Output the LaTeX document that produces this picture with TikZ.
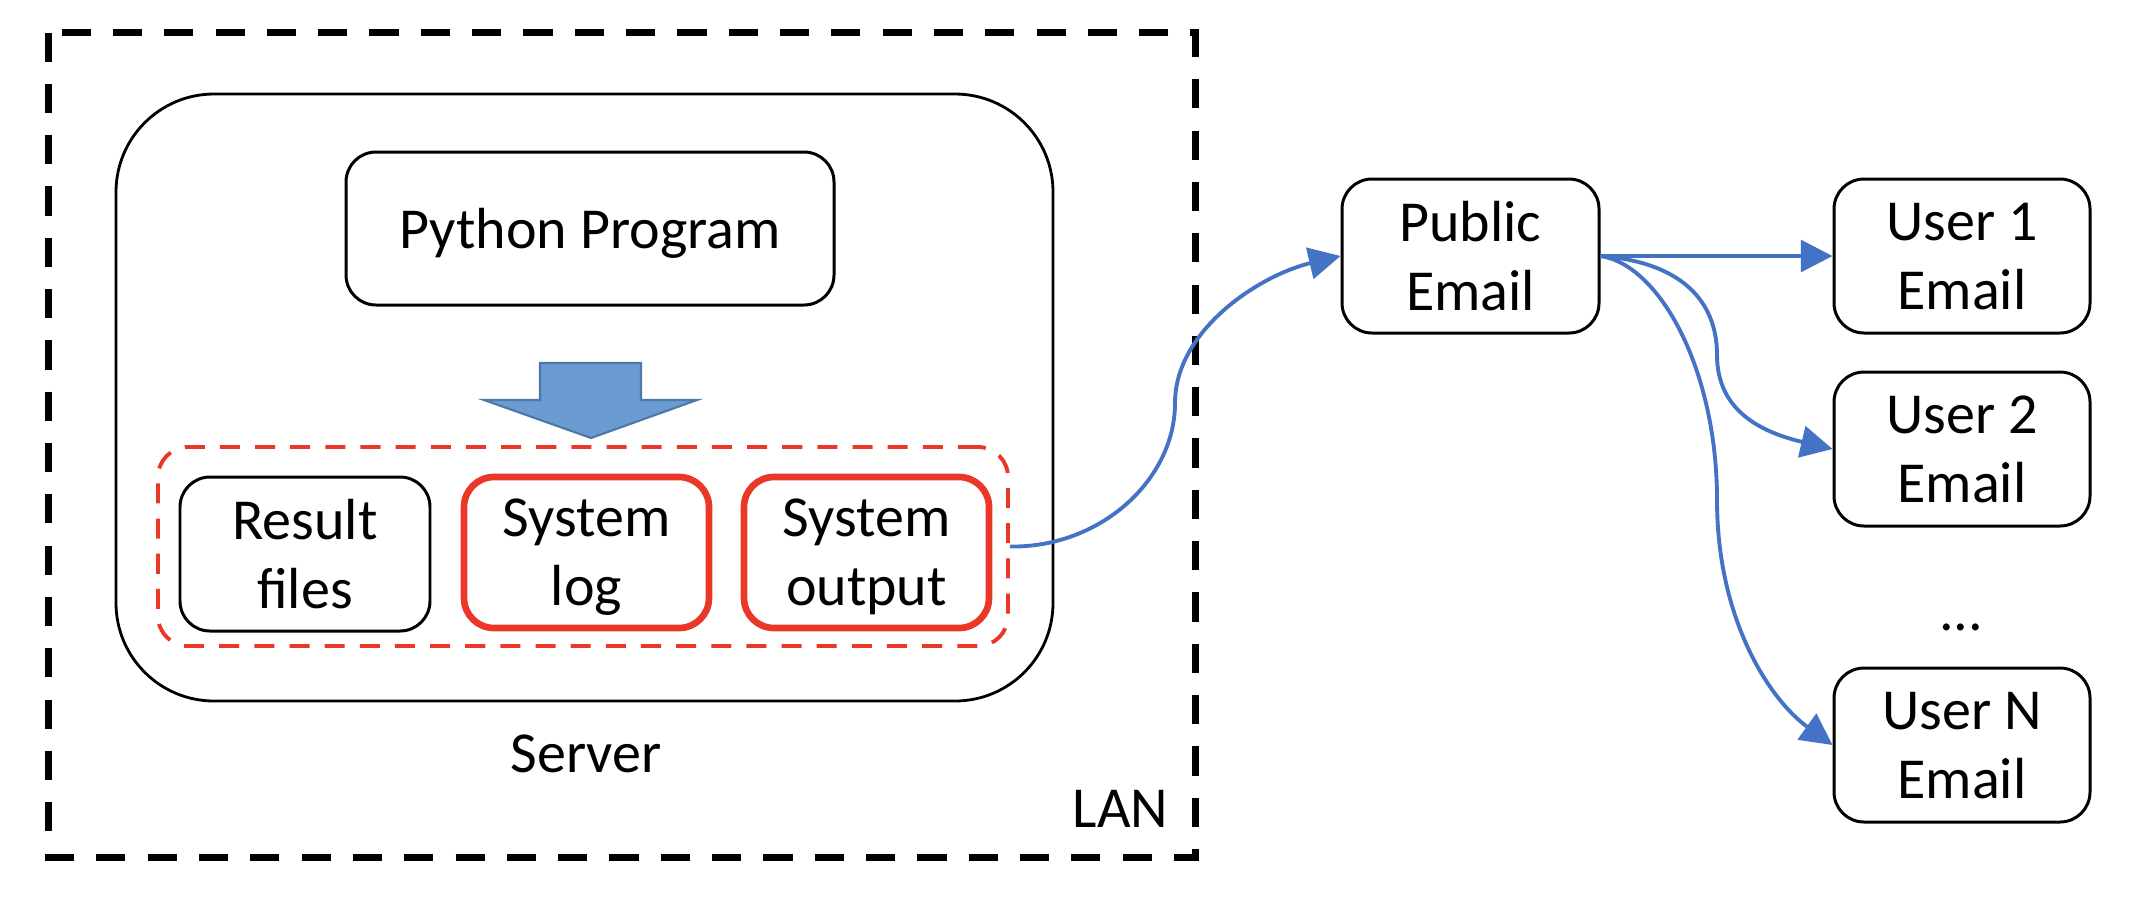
\documentclass[tikz,border=0pt]{standalone}
\usepackage{fontspec}
\setmainfont{Carlito}
\usetikzlibrary{arrows.meta}
\definecolor{redline}{RGB}{234,55,40}
\definecolor{blueline}{RGB}{68,114,196}
\definecolor{arrowfill}{RGB}{106,155,209}
\definecolor{arrowedge}{RGB}{78,120,170}
\tikzset{
  txt/.style={font=\fontsize{16.5}{19.7}\selectfont, align=center},
  boxtxt/.style={txt, text depth=0pt},
  blackbox/.style={draw=black, line width=0.85pt, rounded corners=3mm, boxtxt},
  redbox/.style={draw=redline, line width=1.9pt, rounded corners=3mm, boxtxt},
  conn/.style={draw=blueline, line width=1.1pt, -{Triangle[length=9pt,width=9pt]}},
}
\begin{document}
\begin{tikzpicture}[x=0.1mm, y=-0.1mm]
\useasboundingbox (0,0) rectangle (2132,902);
% LAN
\draw[line width=2pt, dash pattern=on 8.3pt off 6.3pt] (48.5,32.5) rectangle (1195,857);
\node[txt, anchor=base east, inner sep=0] (lan) at (1169,827) {LAN};
% Server
\node[draw=black, line width=0.8pt, rounded corners=9.8mm, minimum width=93.7mm, minimum height=60.7mm] (server) at (584.5,397.5) {};
\node[txt, anchor=base, inner sep=0] (serverlbl) at (586,772) {Server};
% Python program
\node[blackbox, minimum width=48.8mm, minimum height=15.3mm] (py) at (590,228.5) {Python Program};
% block arrow
\draw[fill=arrowfill, draw=arrowedge, line width=0.6pt] (540,363) -- (641,363) -- (641,400) -- (697,400) -- (591,438) -- (484,400) -- (540,400) -- cycle;
% red dashed group
\node[draw=redline, line width=1.1pt, dash pattern=on 5.7pt off 4.3pt, rounded corners=3mm, minimum width=85mm, minimum height=19.9mm] (grp) at (583,546.5) {};
\node[blackbox, minimum width=25mm, minimum height=15.4mm] (res) at (305,554) {Result\\files};
\node[redbox, minimum width=24.5mm, minimum height=15.1mm] (slog) at (586.5,552.5) {System\\log};
\node[redbox, minimum width=24.5mm, minimum height=15.1mm] (sout) at (866.5,552.5) {System\\output};
% email nodes
\node[blackbox, minimum width=25.7mm, minimum height=15.4mm] (pub) at (1470.5,256) {Public\\Email};
\node[blackbox, minimum width=25.6mm, minimum height=15.4mm] (u1) at (1962,256) {User 1\\Email};
\node[blackbox, minimum width=25.6mm, minimum height=15.4mm] (u2) at (1962,449) {User 2\\Email};
\node[blackbox, minimum width=25.6mm, minimum height=15.4mm] (un) at (1962,745) {User N\\Email};
\node[txt, inner sep=0] (dots) at (1961,627) {...};
% connectors
\draw[conn] (grp.east) .. controls (1100,548) and (1175,480) .. (1175,403)
  .. controls (1175,330) and (1260,275) .. (pub.west);
\draw[conn] (pub.east) .. controls (1700,256) and (1730,256) .. (u1.west);
\draw[conn] (pub.east) .. controls (1680,262) and (1717,300) .. (1717,355)
  .. controls (1717,410) and (1760,432) .. (u2.west);
\draw[conn] (pub.east) .. controls (1660,265) and (1717,370) .. (1717,500)
  .. controls (1717,620) and (1770,700) .. (un.west);
\end{tikzpicture}
\end{document}
